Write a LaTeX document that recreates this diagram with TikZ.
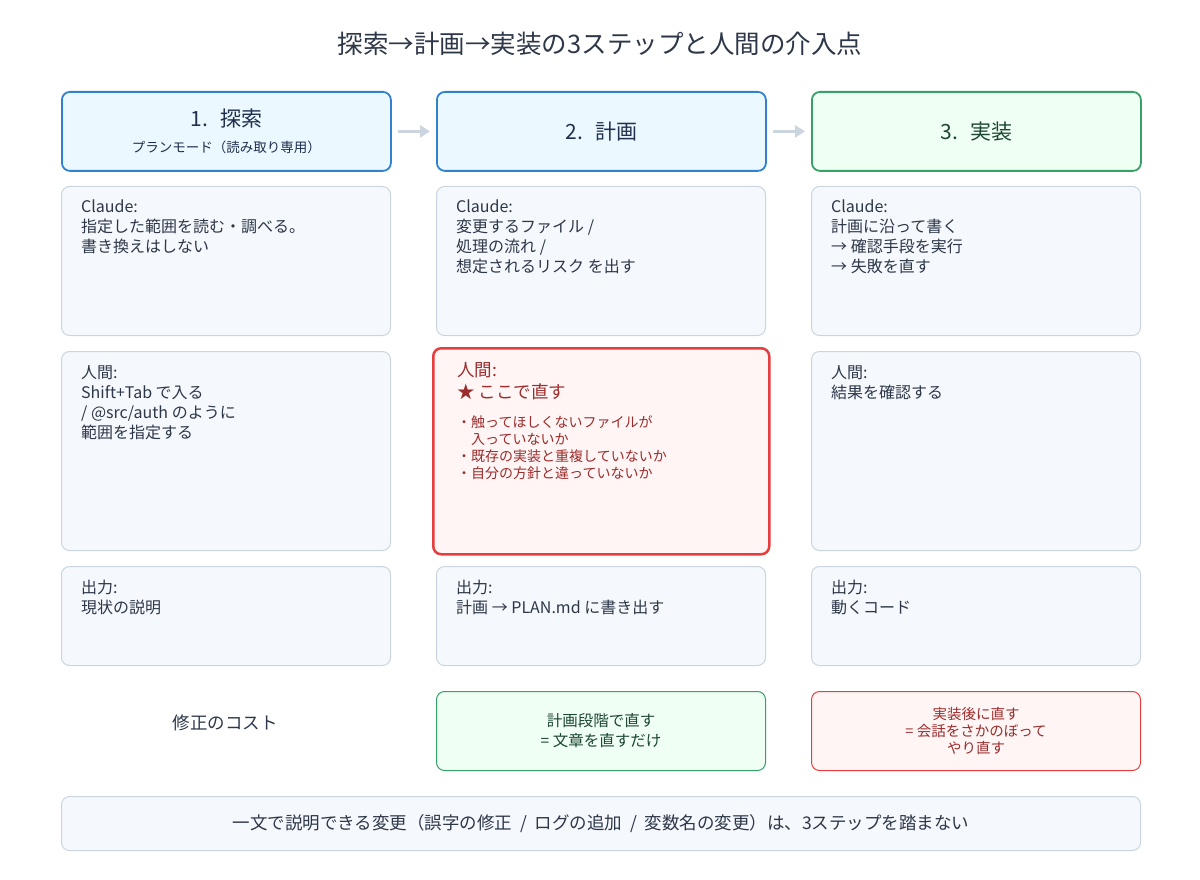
\documentclass[tikz,border=0pt]{standalone}
\usepackage{fontspec}
\setmainfont{Noto Sans CJK JP}
\usetikzlibrary{arrows.meta,positioning}

\definecolor{inkdark}{HTML}{2D3748}
\definecolor{inknavy}{HTML}{1F2F4D}
\definecolor{blueline}{HTML}{3182CE}
\definecolor{bluefill}{HTML}{EBF8FF}
\definecolor{greenline}{HTML}{38A169}
\definecolor{greenfill}{HTML}{F0FFF4}
\definecolor{greenink}{HTML}{1C4532}
\definecolor{grayline}{HTML}{CBD5E0}
\definecolor{grayfill}{HTML}{F5F8FC}
\definecolor{redline}{HTML}{E53E3E}
\definecolor{redfill}{HTML}{FFF5F5}
\definecolor{redink}{HTML}{9B2C2C}

\tikzset{
  card/.style={draw=grayline, fill=grayfill, line width=1pt, rounded corners=8pt,
    minimum width=329pt, anchor=north west, inner sep=0pt},
  stephead/.style={card, line width=1.8pt, minimum height=79pt, align=center,
    text=inknavy, font=\fontsize{21}{24}\selectfont},
  cardtext/.style={anchor=north west, align=left, inner sep=0pt, text=inkdark,
    font=\fontsize{16}{20}\selectfont},
  flowarrow/.style={draw=grayline, line width=3pt, shorten <=6pt, shorten >=6pt,
    -{Triangle[length=10pt,width=12pt]}}
}

\begin{document}
\begin{tikzpicture}[x=1pt,y=-1pt]
  \useasboundingbox (0,0) rectangle (1200,880);

  % Title
  \node[text=inkdark, font=\fontsize{25.5}{28}\selectfont] (title) at (600,44)
    {探索→計画→実装の3ステップと人間の介入点};

  % Step headers
  \node[stephead, draw=blueline, fill=bluefill] (head1) at (61,91)
    {1.\hspace{0.6em}探索\\[2pt]{\fontsize{13.5}{16}\selectfont プランモード（読み取り専用）}};
  \node[stephead, draw=blueline, fill=bluefill] (head2) at (436,91) {2.\hspace{0.6em}計画};
  \node[stephead, draw=greenline, fill=greenfill, text=greenink] (head3) at (811,91) {3.\hspace{0.6em}実装};

  % Arrows between the steps
  \draw[flowarrow] (head1) -- (head2);
  \draw[flowarrow] (head2) -- (head3);

  % Claude row
  \foreach \i/\x/\txt in {1/61/{Claude:\\指定した範囲を読む・調べる。\\書き換えはしない},
      2/436/{Claude:\\変更するファイル /\\処理の流れ /\\想定されるリスク を出す},
      3/811/{Claude:\\計画に沿って書く\\→ 確認手段を実行\\→ 失敗を直す}} {
    \node[card, minimum height=149pt] (claude\i) at (\x,186) {};
    \node[cardtext] (claudetxt\i) at ([shift={(20,14)}]claude\i.north west) {\txt};
  }

  % Human row
  \foreach \i/\x/\txt in {1/61/{人間:\\Shift+Tab で入る\\/ @src/auth のように\\範囲を指定する},
      3/811/{人間:\\結果を確認する}} {
    \node[card, minimum height=199pt] (human\i) at (\x,351) {};
    \node[cardtext] (humantxt\i) at ([shift={(20,14)}]human\i.north west) {\txt};
  }

  % The point where the human steps in
  \node[card, draw=redline, fill=redfill, line width=2.5pt, minimum width=336pt,
    minimum height=206pt] (human2) at (432,347) {};
  \node[cardtext, text=redink, font=\fontsize{17.5}{22}\selectfont] (humantxt2)
    at ([shift={(25,15)}]human2.north west) {人間:\\★ ここで直す};
  \node[cardtext, text=redink, font=\fontsize{14}{17}\selectfont, below=15pt of humantxt2.south west, anchor=north west]
    (checklist) {・触ってほしくないファイルが\\\phantom{・}入っていないか\\・既存の実装と重複していないか\\・自分の方針と違っていないか};

  % Output row
  \foreach \i/\x/\txt in {1/61/{出力:\\現状の説明},
      2/436/{出力:\\計画 → PLAN.md に書き出す},
      3/811/{出力:\\動くコード}} {
    \node[card, minimum height=99pt] (output\i) at (\x,566) {};
    \node[cardtext] (outputtxt\i) at ([shift={(20,14)}]output\i.north west) {\txt};
  }

  % Cost of a fix
  \node[text=inkdark, font=\fontsize{17.5}{20}\selectfont] (costlabel) at (225,723) {修正のコスト};
  \node[card, draw=greenline, fill=greenfill, minimum height=79pt, align=center,
    text=greenink, font=\fontsize{15.5}{20}\selectfont] (cost2) at (436,691)
    {計画段階で直す\\= 文章を直すだけ};
  \node[card, draw=redline, fill=redfill, minimum height=79pt, align=center,
    text=redink, font=\fontsize{14.5}{17}\selectfont] (cost3) at (811,691)
    {実装後に直す\\= 会話をさかのぼって\\やり直す};

  % Note at the bottom
  \node[card, minimum width=1079pt, minimum height=54pt, text=inkdark,
    font=\fontsize{17.5}{20}\selectfont] (note) at (61,796)
    {一文で説明できる変更（誤字の修正\ \ /\ \ ログの追加\ \ /\ \ 変数名の変更）は、3ステップを踏まない};
\end{tikzpicture}
\end{document}
